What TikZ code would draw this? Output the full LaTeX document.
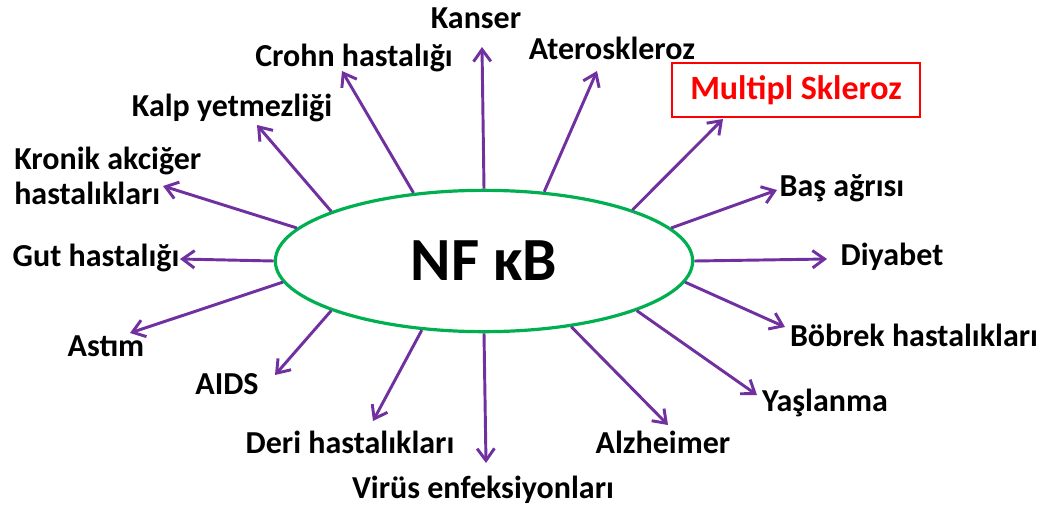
\documentclass[tikz,border=0pt]{standalone}
\usepackage{fontspec}
\setmainfont{Carlito}
\usetikzlibrary{shapes.geometric,arrows.meta}
\definecolor{arrowpurple}{RGB}{112,48,160}
\definecolor{ringgreen}{RGB}{0,176,80}

\begin{document}
\begin{tikzpicture}[x=0.75pt,y=-0.75pt,
  disease/.style={font=\fontsize{24}{26.5}\selectfont\bfseries, inner sep=0pt},
  link/.style={draw=arrowpurple, line width=2.2pt, -{Straight Barb[length=9pt,width=13pt]}}]
\useasboundingbox (0,0) rectangle (1052,511);
\node (nfkb) [draw=ringgreen, line width=2.4pt, ellipse, minimum width=313pt, minimum height=106pt, inner sep=0pt, font=\fontsize{46}{50}\selectfont\bfseries] at (484,261) {NF κB};

\node (kanser) [disease] at (476,18) {Kanser};
\node (crohn) [disease] at (354,58) {Crohn hastalığı};
\node (kalp) [disease] at (232,108) {Kalp yetmezliği};
\node (kronik) [disease, anchor=west, align=left] at (14,176) {Kronik akciğer\\hastalıkları};
\node (gut) [disease] at (96,258) {Gut hastalığı};
\node (astim) [disease] at (106,346) {Astım};
\node (aids) [disease] at (227,384) {AIDS};
\node (deri) [disease] at (350,442) {Deri hastalıkları};
\node (virus) [disease] at (483,490) {Virüs enfeksiyonları};
\node (alzheimer) [disease] at (663,442) {Alzheimer};
\node (yaslanma) [disease] at (825,403) {Yaşlanma};
\node (bobrek) [disease] at (914,335) {Böbrek hastalıkları};
\node (diyabet) [disease] at (892,257) {Diyabet};
\node (bas) [disease] at (842,188) {Baş ağrısı};
\node (multipl) [disease, draw=red, line width=1.6pt, text=red, font=\fontsize{25.5}{28}\selectfont\bfseries, minimum width=186pt, minimum height=40pt] at (796,90) {Multipl Skleroz};
\node (atero) [disease] at (612,48) {Ateroskleroz};

\coordinate (kanser tip) at (482,47);
\coordinate (crohn tip) at (342,71);
\coordinate (kalp tip) at (257,125);
\coordinate (kronik tip) at (163,186);
\coordinate (gut tip) at (180,259);
\coordinate (astim tip) at (130,333);
\coordinate (aids tip) at (275,375);
\coordinate (deri tip) at (373,421);
\coordinate (virus tip) at (486,463);
\coordinate (alzheimer tip) at (668,425);
\coordinate (yaslanma tip) at (757,395);
\coordinate (bobrek tip) at (785,327);
\coordinate (diyabet tip) at (827,259);
\coordinate (bas tip) at (777,190);
\coordinate (multipl tip) at (723,119);
\coordinate (atero tip) at (597,71);

\draw [link] (nfkb.90) -- (kanser tip);
\draw [link] (nfkb.136) -- (crohn tip);
\draw [link] (nfkb.162) -- (kalp tip);
\draw [link] (nfkb.170) -- (kronik tip);
\draw [link] (nfkb.180) -- (gut tip);
\draw [link] (nfkb.186) -- (astim tip);
\draw [link] (nfkb.198) -- (aids tip);
\draw [link] (nfkb.228) -- (deri tip);
\draw [link] (nfkb.270) -- (virus tip);
\draw [link] (nfkb.323) -- (alzheimer tip);
\draw [link] (nfkb.342) -- (yaslanma tip);
\draw [link] (nfkb.354) -- (bobrek tip);
\draw [link] (nfkb.0) -- (diyabet tip);
\draw [link] (nfkb.10) -- (bas tip);
\draw [link] (nfkb.19) -- (multipl tip);
\draw [link] (nfkb.49) -- (atero tip);
\end{tikzpicture}
\end{document}
